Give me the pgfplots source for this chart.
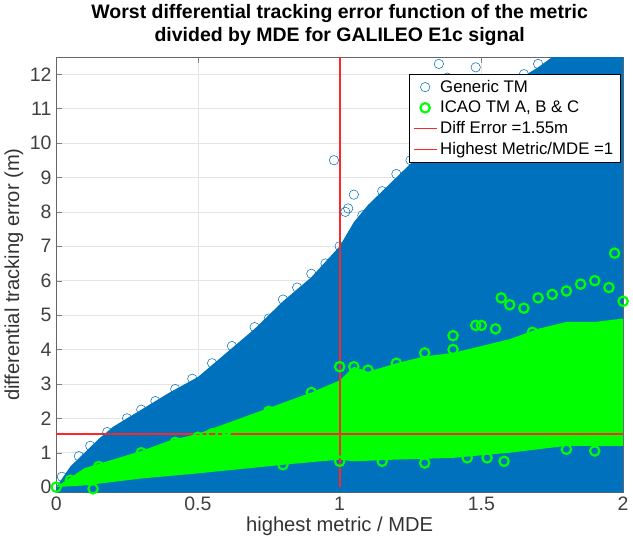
\documentclass[border=0pt]{standalone}
\usepackage{pgfplots}
\pgfplotsset{compat=1.18}
\usepackage{fontspec}
\setmainfont{Liberation Sans}
\definecolor{mblue}{rgb}{0,0.447,0.741}
\definecolor{mgreen}{rgb}{0,1,0}
\definecolor{mred}{rgb}{1,0.15,0.15}
\begin{document}
\begin{tikzpicture}
\begin{axis}[
  scale only axis, width=422pt, height=324pt,
  xmin=0, xmax=2, ymin=-0.15, ymax=12.5,
  xtick={0,0.5,1,1.5,2}, xticklabels={0,0.5,1,1.5,2},
  ytick={0,1,...,12},
  grid=major, grid style={gray!20},
  tick label style={font=\fontsize{14.5}{16}\selectfont, text=black!75},
  /pgf/number format/assume math mode=true,
  xlabel={highest metric / MDE}, ylabel={differential tracking error (m)},
  label style={font=\fontsize{15}{17}\selectfont, text=black!80},
  xlabel style={yshift=2pt}, ylabel style={yshift=-2pt},
  title style={font=\bfseries\fontsize{14.5}{17}\selectfont, align=center, yshift=-1pt},
  title={Worst differential tracking error function of the metric\\divided by MDE for GALILEO E1c signal},
  axis line style={black!60}, tick align=inside, clip=true,
  legend style={at={(0.995,0.96)}, anchor=north east, font=\fontsize{12.5}{14}\selectfont, draw=black, fill=white, cells={anchor=west}, row sep=1pt},
  legend cell align=left
]
\addplot[draw=none, fill=mblue, forget plot] coordinates {
(0,0) (0.05,0.6) (0.1,1.0) (0.15,1.4) (0.2,1.75) (0.3,2.25) (0.4,2.75) (0.5,3.2) (0.6,3.9) (0.7,4.6) (0.8,5.4) (0.9,6.1) (1,7.0) (1.05,7.7) (1.1,8.2) (1.2,9.0) (1.3,9.8) (1.4,10.5) (1.5,11.1) (1.6,11.7) (1.7,12.2) (1.75,12.5) (1.8,12.6) (2,12.6) (2,-0.15) (0,-0.15) };
\addplot[only marks, mark=o, mark size=3.5pt, color=mblue] coordinates {
(0.02,0.3) (0.08,0.9) (0.12,1.2) (0.18,1.6) (0.25,2.0) (0.3,2.25) (0.35,2.5) (0.42,2.85) (0.48,3.15) (0.55,3.6) (0.62,4.1) (0.7,4.65) (0.75,4.9) (0.8,5.45) (0.85,5.8) (0.9,6.2) (0.95,6.5) (1,7.0) (1.02,8.0) (1.05,8.5) (1.03,8.1) (0.98,9.5) (1.08,7.9) (1.15,8.6) (1.2,9.1) (1.25,9.5) (1.3,9.9) (1.35,10.2) (1.4,10.6) (1.45,10.9) (1.5,11.2) (1.55,11.5) (1.6,11.8) (1.65,12.0) (1.7,12.3) (1.32,11.5) (1.35,12.3) (1.38,11.9) (1.48,12.2)};
\addlegendentry{Generic TM}
\addplot[draw=none, fill=mgreen, forget plot] coordinates {
(0,0) (0.1,0.55) (0.2,0.8) (0.3,1.05) (0.4,1.35) (0.5,1.55) (0.6,1.85) (0.7,2.15) (0.8,2.45) (0.9,2.75) (1,3.1) (1.05,3.5) (1.1,3.35) (1.2,3.6) (1.3,3.8) (1.4,3.9) (1.5,4.1) (1.6,4.3) (1.7,4.6) (1.8,4.8) (1.9,4.8) (2,4.9) (2,1.2) (1.8,1.2) (1.6,1.0) (1.4,0.85) (1.2,0.8) (1.05,0.75) (1,0.8) (0.8,0.65) (0.5,0.4) (0.3,0.25) (0.1,0.05) };
\addplot[only marks, mark=o, mark size=3.5pt, line width=1.6pt, color=mgreen] coordinates {
(0,0) (0.05,0.2) (0.15,0.6) (0.3,1.0) (0.42,1.3) (0.5,1.45) (0.55,1.55) (0.6,1.65) (0.65,1.8) (0.75,2.2) (0.9,2.75) (1,3.5) (1.05,3.5) (1.1,3.4) (1.2,3.6) (1.3,3.9) (1.4,4.0) (1.48,4.7) (1.5,4.7) (1.55,4.6) (1.57,5.5) (1.6,5.3) (1.65,5.2) (1.7,5.5) (1.75,5.6) (1.8,5.7) (1.85,5.9) (1.9,6.0) (1.95,5.8) (1.97,6.8) (2,5.4) (1.68,4.5) (1.95,4.4) (1.78,4.2) (1.4,4.4) (1.15,0.75) (1.3,0.7) (1.45,0.85) (1.52,0.85) (1.58,0.75) (1.8,1.1) (1.9,1.05) (1.0,0.75) (0.8,0.65) (0.13,-0.05)};
\addlegendentry{ICAO TM A, B \& C}
\addplot[mred, line width=1.3pt, mark=none] coordinates {(0,1.55) (2,1.55)};
\addlegendentry{Diff Error =1.55m}
\addplot[mred, line width=1.3pt, mark=none] coordinates {(1,0) (1,12.5)};
\addlegendentry{Highest Metric/MDE =1}
\end{axis}
\end{tikzpicture}
\end{document}
